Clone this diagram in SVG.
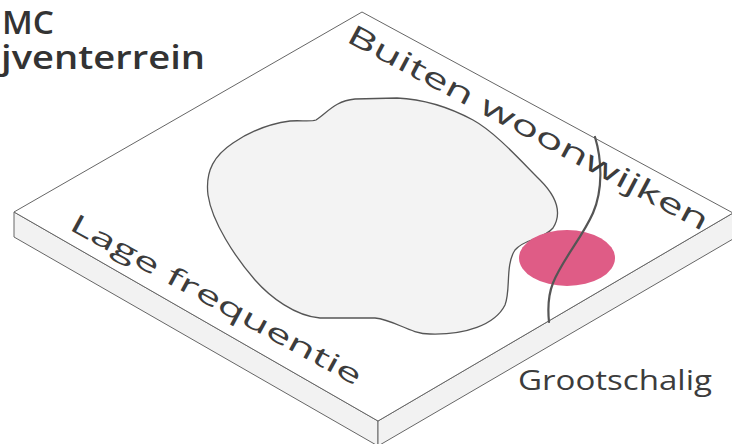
<svg xmlns="http://www.w3.org/2000/svg" width="732" height="444" viewBox="0 0 732 444">
  <style>
    .edge { stroke: #666; stroke-width: 1; stroke-linejoin: round; }
    .top { fill: #ffffff; }
    .side { fill: #f2f2f2; }
    .label { font-family: "Open Sans", "Noto Sans", "DejaVu Sans", sans-serif; fill: #3c3c3c; }
    .title { font-family: "Open Sans", "Noto Sans", "DejaVu Sans", sans-serif; font-weight: 600; fill: #333; font-size: 33px; }
  </style>

  <rect width="732" height="444" fill="#ffffff"/>

  <!-- title, partly off the left edge -->
  <g id="title">
    <text class="title" x="2" y="34" textLength="52" lengthAdjust="spacingAndGlyphs">MC</text>
    <text class="title" x="1" y="69" textLength="204" lengthAdjust="spacingAndGlyphs">jventerrein</text>
  </g>

  <!-- isometric slab -->
  <g id="slab">
    <polygon class="side edge" points="14,212 378,421 378,446 14,237"/>
    <polygon class="side edge" points="378,421 733,213 733,239 378,446"/>
    <polygon class="top edge" points="362,12 733,213 378,421 14,212"/>
  </g>

  <!-- central area -->
  <g id="area">
    <path d="M 233,143 C 255,128 275,123 290,121 C 300,120 310,122 316,120 C 328,112 335,101 355,99 L 397,98 C 420,99 445,105 473,120 C 495,132 520,160 540,180 C 556,196 563,212 553,228 C 543,240 525,238 515,250 C 505,265 511,290 505,305 C 495,325 465,335 430,334 C 410,334 395,320 375,318 L 320,318 C 295,316 270,297 255,280 C 235,257 212,222 208,195 C 205,170 215,155 233,143 Z" fill="#f3f3f3" stroke="#555" stroke-width="1.3"/>
  </g>

  <!-- large-scale spot -->
  <g id="spot">
    <ellipse cx="567" cy="258" rx="48" ry="28" fill="#df5c86"/>
  </g>

  <!-- dividing line -->
  <g id="connectors">
    <path d="M 595,137 C 602,160 603,190 593,213 C 582,238 562,260 553,283 C 547,298 548,312 549,322" fill="none" stroke="#555" stroke-width="2.2" stroke-linecap="round"/>
  </g>

  <!-- edge labels -->
  <g id="label-buiten">
    <text class="label" font-size="28" transform="translate(345,41) rotate(28)" textLength="405" lengthAdjust="spacingAndGlyphs">Buiten woonwijken</text>
  </g>
  <g id="label-lage">
    <text class="label" font-size="26" transform="translate(68,229) rotate(28.6)" textLength="328" lengthAdjust="spacingAndGlyphs">Lage frequentie</text>
  </g>
  <g id="label-groot">
    <text class="label" font-size="28" x="518" y="390" textLength="194" lengthAdjust="spacingAndGlyphs">Grootschalig</text>
  </g>
</svg>
